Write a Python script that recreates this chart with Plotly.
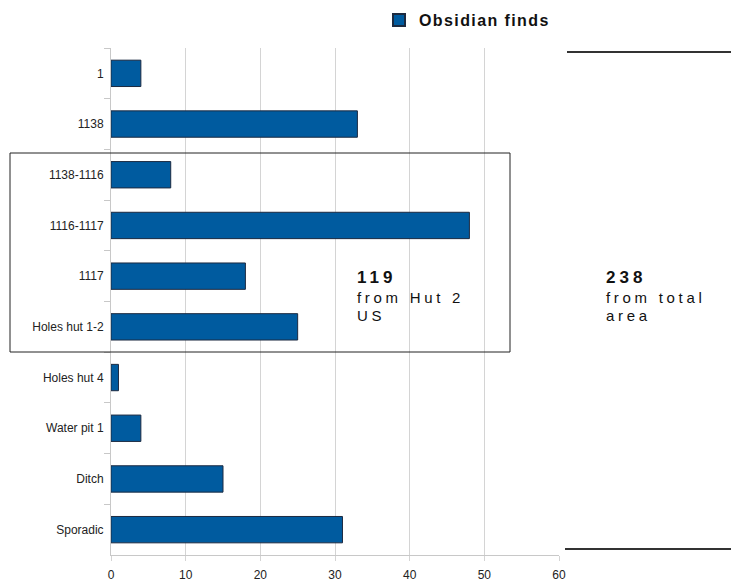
import plotly.graph_objects as go

categories = ["1", "1138", "1138-1116", "1116-1117", "1117", "Holes hut 1-2",
              "Holes hut 4", "Water pit 1", "Ditch", "Sporadic"]
finds = [4, 33, 8, 48, 18, 25, 1, 4, 15, 31]
x_ticks = [0, 10, 20, 30, 40, 50, 60]
series_name = "Obsidian finds"

W, H = 731, 583
PL, PR, PT, PB = 111, 559, 48, 555          # plot area in px
L, R, T, B = PL, W - PR, PT, H - PB
PW, PH = PR - PL, PB - PT

def px(x):
    return (x - PL) / PW

def py(y):
    return (PB - y) / PH

fig = go.Figure()
fig.add_trace(go.Bar(
    y=categories, x=finds, orientation="h",
    name="<span style='letter-spacing:1.4px'><b>" + series_name + "</b></span>",
    marker=dict(color="#005b9f", line=dict(color="#1c2a40", width=1)),
    width=0.52,
))

fig.update_layout(
    width=W, height=H,
    margin=dict(l=L, r=R, t=T, b=B, autoexpand=False),
    paper_bgcolor="white", plot_bgcolor="white",
    font=dict(family="Liberation Sans, Arial", size=12, color="#222"),
    showlegend=True,
    legend=dict(xref="container", yref="container", x=379 / W, y=1 - 20 / H,
                xanchor="left", yanchor="middle",
                orientation="h", font=dict(family="Liberation Sans, Arial", size=16, color="#111"),
                bgcolor="rgba(0,0,0,0)", itemsizing="constant", itemwidth=30),
    bargap=0.48,
)
fig.update_xaxes(range=[0, 60], tickvals=x_ticks, showgrid=True, gridcolor="#d4d4d4",
                 gridwidth=1, zeroline=False, showline=True, linecolor="#c8c8c8",
                 ticks="outside", ticklen=5, tickcolor="#d4d4d4",
                 tickfont=dict(size=12, color="#222"), ticklabelstandoff=4,
                 fixedrange=True, automargin=False)
fig.update_yaxes(categoryorder="array", categoryarray=categories, autorange="reversed",
                 showgrid=False, showline=True, linecolor="#c8c8c8",
                 ticks="outside", ticklen=6, tickcolor="#c8c8c8", tickson="boundaries",
                 tickfont=dict(size=12, color="#222"), ticklabelstandoff=4,
                 automargin=False)

# box around Hut 2 group
fig.add_shape(type="rect", xref="paper", yref="paper",
              x0=px(10), x1=px(510), y0=py(352), y1=py(153),
              line=dict(color="#222", width=1))
# right bracket lines
fig.add_shape(type="line", xref="paper", yref="paper",
              x0=px(567), x1=px(731), y0=py(52), y1=py(52),
              line=dict(color="#333", width=2))
fig.add_shape(type="line", xref="paper", yref="paper",
              x0=px(565), x1=px(731), y0=py(549), y1=py(549),
              line=dict(color="#333", width=2))

def block(x0, lines):
    ys = [277, 297, 315]
    for i, (txt, y) in enumerate(zip(lines, ys)):
        if i == 0:
            t = "<span style='letter-spacing:4px'><b>" + txt + "</b></span>"
            size = 17
        else:
            t = "<span style='letter-spacing:3.7px'>" + txt + "</span>"
            size = 15
        fig.add_annotation(xref="paper", yref="paper", x=px(x0), y=py(y),
                           xanchor="left", yanchor="middle", align="left",
                           showarrow=False, text=t, borderpad=0,
                           font=dict(family="Liberation Sans, Arial", size=size, color="#111"))

block(356, ["119", "from Hut 2", "US"])
block(605, ["238", "from total", "area"])

fig.write_html("out.html", config={"displayModeBar": False},
               post_script="document.body.style.margin='0';document.body.style.overflow='hidden';")
